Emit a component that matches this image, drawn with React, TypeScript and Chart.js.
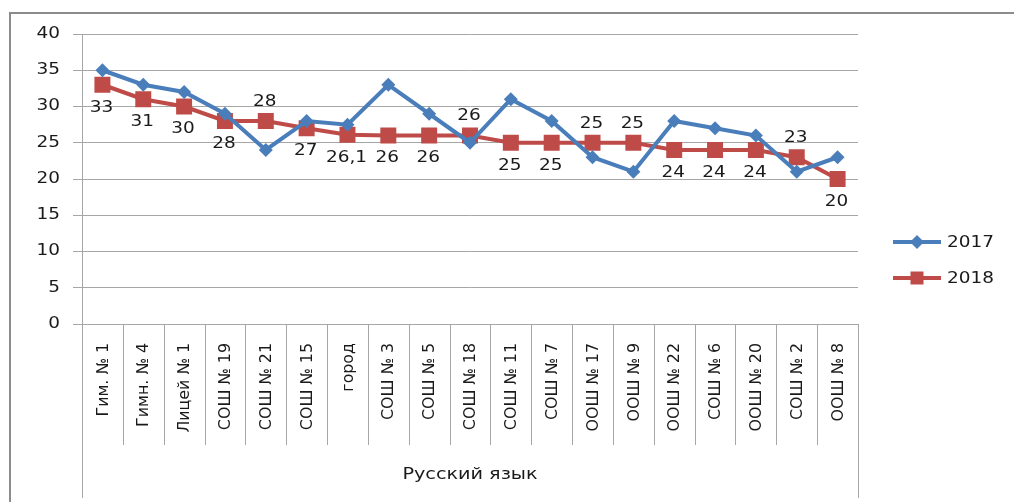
import React, { useEffect, useRef } from 'react';
import { Chart, registerables } from 'chart.js';

Chart.register(...registerables);

const categories = ['Гим. № 1', 'Гимн. № 4', 'Лицей № 1', 'СОШ № 19', 'СОШ № 21', 'СОШ № 15', 'город', 'СОШ № 3', 'СОШ № 5', 'СОШ № 18', 'СОШ № 11', 'СОШ № 7', 'ООШ № 17', 'ООШ № 9', 'ООШ № 22', 'СОШ № 6', 'ООШ № 20', 'СОШ № 2', 'ООШ № 8'];
const values2017 = [35, 33, 32, 29, 24, 28, 27.5, 33, 29, 25, 31, 28, 23, 21, 28, 27, 26, 21, 23];
const values2018 = [33, 31, 30, 28, 28, 27, 26.1, 26, 26, 26, 25, 25, 25, 25, 24, 24, 24, 23, 20];
const labelSide2018 = ['below', 'below', 'below', 'below', 'above', 'below', 'below', 'below', 'below', 'above', 'below', 'below', 'above', 'above', 'below', 'below', 'below', 'above', 'below'];
const seriesNames = ['2017', '2018'];
const groupLabel = 'Русский язык';
const yTickValues = [0, 5, 10, 15, 20, 25, 30, 35, 40];
const yMin = 0;
const yMax = 40;
const yStep = 5;

const BLUE = '#4A7EBB';
const RED = '#BE4B48';
const GRID = '#A6A6A6';
const TEXT = '#1a1a1a';
const FONT = '"DejaVu Sans", Verdana, sans-serif';
const NARROW = '"Liberation Sans Narrow", "DejaVu Sans Condensed", sans-serif';
const STRETCH = 1.23;

function wideText(ctx: CanvasRenderingContext2D, txt: string, x: number, y: number, align: 'left' | 'center' | 'right', sx = STRETCH) {
  ctx.save();
  ctx.translate(x, y);
  ctx.scale(sx, 1);
  ctx.textAlign = align;
  ctx.textBaseline = 'middle';
  ctx.fillText(txt, 0, 0);
  ctx.restore();
}

const decorPlugin = {
  id: 'decor',
  beforeDraw(chart: any) {
    const ctx = chart.ctx;
    ctx.save();
    ctx.strokeStyle = '#8C8C8C';
    ctx.lineWidth = 2;
    ctx.strokeRect(10, 13, 1100, 600);
    ctx.restore();
  },
  afterDraw(chart: any) {
    const ctx = chart.ctx;
    const area = chart.chartArea;
    const xs = chart.scales.x;
    const ys = chart.scales.y;
    const n = categories.length;
    const w = (area.right - area.left) / n;
    ctx.save();
    ctx.strokeStyle = GRID;
    ctx.lineWidth = 1;
    // outer group lines and category dividers
    ctx.beginPath();
    ctx.moveTo(Math.round(area.left) + 0.5, area.top);
    ctx.lineTo(Math.round(area.left) + 0.5, 498);
    ctx.moveTo(Math.round(area.right) + 0.5, area.bottom);
    ctx.lineTo(Math.round(area.right) + 0.5, 498);
    for (let i = 1; i < n; i++) {
      const x = Math.round(area.left + i * w) + 0.5;
      ctx.moveTo(x, area.bottom);
      ctx.lineTo(x, 445);
    }
    ctx.stroke();
    // y tick labels
    ctx.fillStyle = TEXT;
    ctx.font = `15px ${FONT}`;
    yTickValues.forEach((v) => {
      wideText(ctx, String(v), 60, ys.getPixelForValue(v), 'right');
    });
    // category labels
    ctx.font = `16px ${NARROW}`;
    categories.forEach((c, i) => {
      const x = xs.getPixelForValue(i);
      ctx.save();
      ctx.translate(x + 1, 343);
      ctx.rotate(-Math.PI / 2);
      ctx.scale(1.1, 1);
      ctx.textAlign = 'right';
      ctx.textBaseline = 'middle';
      ctx.fillText(c, 0, 0);
      ctx.restore();
    });
    // group label
    ctx.font = `16px ${FONT}`;
    wideText(ctx, groupLabel, (area.left + area.right) / 2, 475, 'center', 1.2);
    // data labels for 2018
    const meta = chart.getDatasetMeta(1);
    ctx.font = `15px ${FONT}`;
    meta.data.forEach((pt: any, i: number) => {
      const txt = String(values2018[i]).replace('.', ',');
      const dy = labelSide2018[i] === 'above' ? -19 : 23;
      wideText(ctx, txt, pt.x - 1, pt.y + dy, 'center');
    });
    // legend
    const legendY = [242, 278];
    const colors = [BLUE, RED];
    seriesNames.forEach((name, i) => {
      const y = legendY[i];
      ctx.strokeStyle = colors[i];
      ctx.lineWidth = 4;
      ctx.beginPath();
      ctx.moveTo(893, y);
      ctx.lineTo(941, y);
      ctx.stroke();
      ctx.fillStyle = colors[i];
      ctx.beginPath();
      if (i === 0) {
        ctx.moveTo(917 - 7, y);
        ctx.lineTo(917, y - 7);
        ctx.lineTo(917 + 7, y);
        ctx.lineTo(917, y + 7);
        ctx.closePath();
      } else {
        ctx.rect(917 - 6.5, y - 6.5, 13, 13);
      }
      ctx.fill();
      ctx.fillStyle = TEXT;
      ctx.font = `15px ${FONT}`;
      wideText(ctx, name, 947, y + 1, 'left');
    });
    ctx.restore();
  },
};

export default function App() {
  const ref = useRef<HTMLCanvasElement | null>(null);
  useEffect(() => {
    if (!ref.current) return;
    const chart = new Chart(ref.current, {
      type: 'line',
      data: {
        labels: categories,
        datasets: [
          {
            label: seriesNames[0],
            data: values2017,
            borderColor: BLUE,
            backgroundColor: BLUE,
            borderWidth: 4,
            pointStyle: 'rectRot',
            pointRadius: 7,
            pointBorderWidth: 0,
            tension: 0,
          },
          {
            label: seriesNames[1],
            data: values2018,
            borderColor: RED,
            backgroundColor: RED,
            borderWidth: 4,
            pointStyle: 'rect',
            pointRadius: 11.3,
            pointBorderWidth: 0,
            tension: 0,
          },
        ],
      },
      options: {
        responsive: false,
        animation: false,
        layout: { padding: { top: 34, right: 156, bottom: 0, left: 0 } },
        plugins: { legend: { display: false }, tooltip: { enabled: false } },
        scales: {
          x: {
            offset: true,
            grid: { display: false, drawTicks: false },
            border: { display: true, color: GRID },
            ticks: { display: false },
            afterFit: (s: any) => { s.height = 178; },
          },
          y: {
            min: yMin,
            max: yMax,
            ticks: { stepSize: yStep, display: false },
            grid: { color: GRID, tickLength: 9, lineWidth: 1 },
            border: { display: true, color: GRID },
            afterFit: (s: any) => { s.width = 82; },
          },
        },
      },
      plugins: [decorPlugin],
    });
    return () => chart.destroy();
  }, []);
  return (
    <div style={{ position: 'absolute', left: 0, top: 0, width: 1014, height: 502, background: '#fff' }}>
      <canvas ref={ref} width={1014} height={502} style={{ width: 1014, height: 502, display: 'block' }} />
    </div>
  );
}
